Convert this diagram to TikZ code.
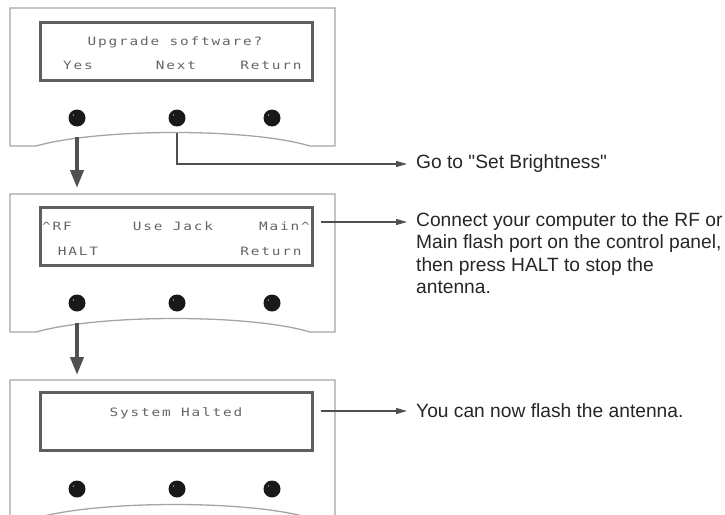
\documentclass[tikz,border=0pt]{standalone}
\usepackage{fontspec}
\setmainfont{Liberation Sans}[Ligatures=TeXOff]
\newfontfamily\lcdfont[FakeStretch=1.25,LetterSpace=16]{DejaVu Sans Mono}
\usetikzlibrary{arrows.meta}
\definecolor{framegrey}{RGB}{165,165,165}
\definecolor{lcdgrey}{RGB}{95,95,95}
\definecolor{lcdtext}{RGB}{100,100,100}
\definecolor{flowgrey}{RGB}{80,80,80}
\tikzset{
  lcd/.style={draw=lcdgrey, line width=3pt, minimum width=272pt, minimum height=58pt, inner sep=0pt},
  lcdtxt/.style={font=\lcdfont\fontsize{11.5}{13}\selectfont, text=lcdtext, inner sep=0pt},
  button/.style={circle, fill=black!90, minimum size=17pt, inner sep=0pt},
  flowarrow/.style={flowgrey, line width=4pt, -{Triangle[length=18pt,width=13pt]}},
  infoarrow/.style={flowgrey, line width=1.3pt, shorten >=9pt, -{Triangle[length=11pt,width=6pt]}},
  note/.style={font=\fontsize{19.2}{22.5}\selectfont, text=black!85, inner sep=0pt, anchor=west, align=left},
}

\begin{document}
\begin{tikzpicture}[x=1pt,y=-1pt]
  \useasboundingbox (0,0) rectangle (725,514);
  \clip (0,0) rectangle (725,514);

  % the three front panels
  \foreach \t in {8,194,380}{
    \draw[framegrey, line width=1.3pt] (10,\t+138) -- (10,\t) -- (335,\t) -- (335,\t+138) -- (310,\t+138)
      .. controls (250,\t+120) and (100,\t+120) .. (36,\t+138) -- cycle;
  }

  % displays
  \node[lcd] (lcd1) at (176,51) {};
  \node[lcd] (lcd2) at (176,236) {};
  \node[lcd] (lcd3) at (176,421) {};

  \node[lcdtxt] (up)     at (175,42)  {Upgrade software?};
  \node[lcdtxt] (yes)    at (78,65)   {Yes};
  \node[lcdtxt] (next)   at (176,65)  {Next};
  \node[lcdtxt] (ret1)   at (271,65)  {Return};
  \node[lcdtxt, anchor=west] (rf)   at (42,226)  {\textasciicircum RF};
  \node[lcdtxt] (jack)   at (173,226) {Use Jack};
  \node[lcdtxt, anchor=east] (main) at (310,226) {Main\textasciicircum};
  \node[lcdtxt] (halt)   at (78,251)  {HALT};
  \node[lcdtxt] (ret2)   at (271,251) {Return};
  \node[lcdtxt] (halted) at (176,413) {System Halted};

  % buttons
  \foreach \p/\y in {1/118,2/303,3/489}{
    \foreach \c/\x in {1/77,2/177,3/272}{
      \node[button] (b\p\c) at (\x,\y) {};
      \draw[white, line width=0.6pt] (\x-4,\y-2.5) -- (\x-3,\y-3.5);
    }
  }

  % flow between panels
  \coordinate (out1) at (77,137);
  \coordinate (in2)  at (77,188);
  \coordinate (out2) at (77,323);
  \coordinate (in3)  at (77,375);
  \draw[flowarrow] (out1) -- (in2);
  \draw[flowarrow] (out2) -- (in3);

  % notes
  \node[note] (goto) at (416,164) {Go to "Set Brightness"};
  \node[note, anchor=north west] (conn) at (416,212)
    {Connect your computer to the RF or\\Main flash port on the control panel,\\then press HALT to stop the\\antenna.};
  \node[note] (now) at (416,411) {You can now flash the antenna.};

  \coordinate (next1) at (177,133);
  \coordinate (c2) at ([yshift=-10pt]conn.north west);
  \draw[infoarrow] (next1) |- (goto);
  \draw[infoarrow, shorten <=7pt] (lcd2.east |- c2) -- (c2);
  \draw[infoarrow, shorten <=7pt] (lcd3.east |- now) -- (now);
\end{tikzpicture}
\end{document}
